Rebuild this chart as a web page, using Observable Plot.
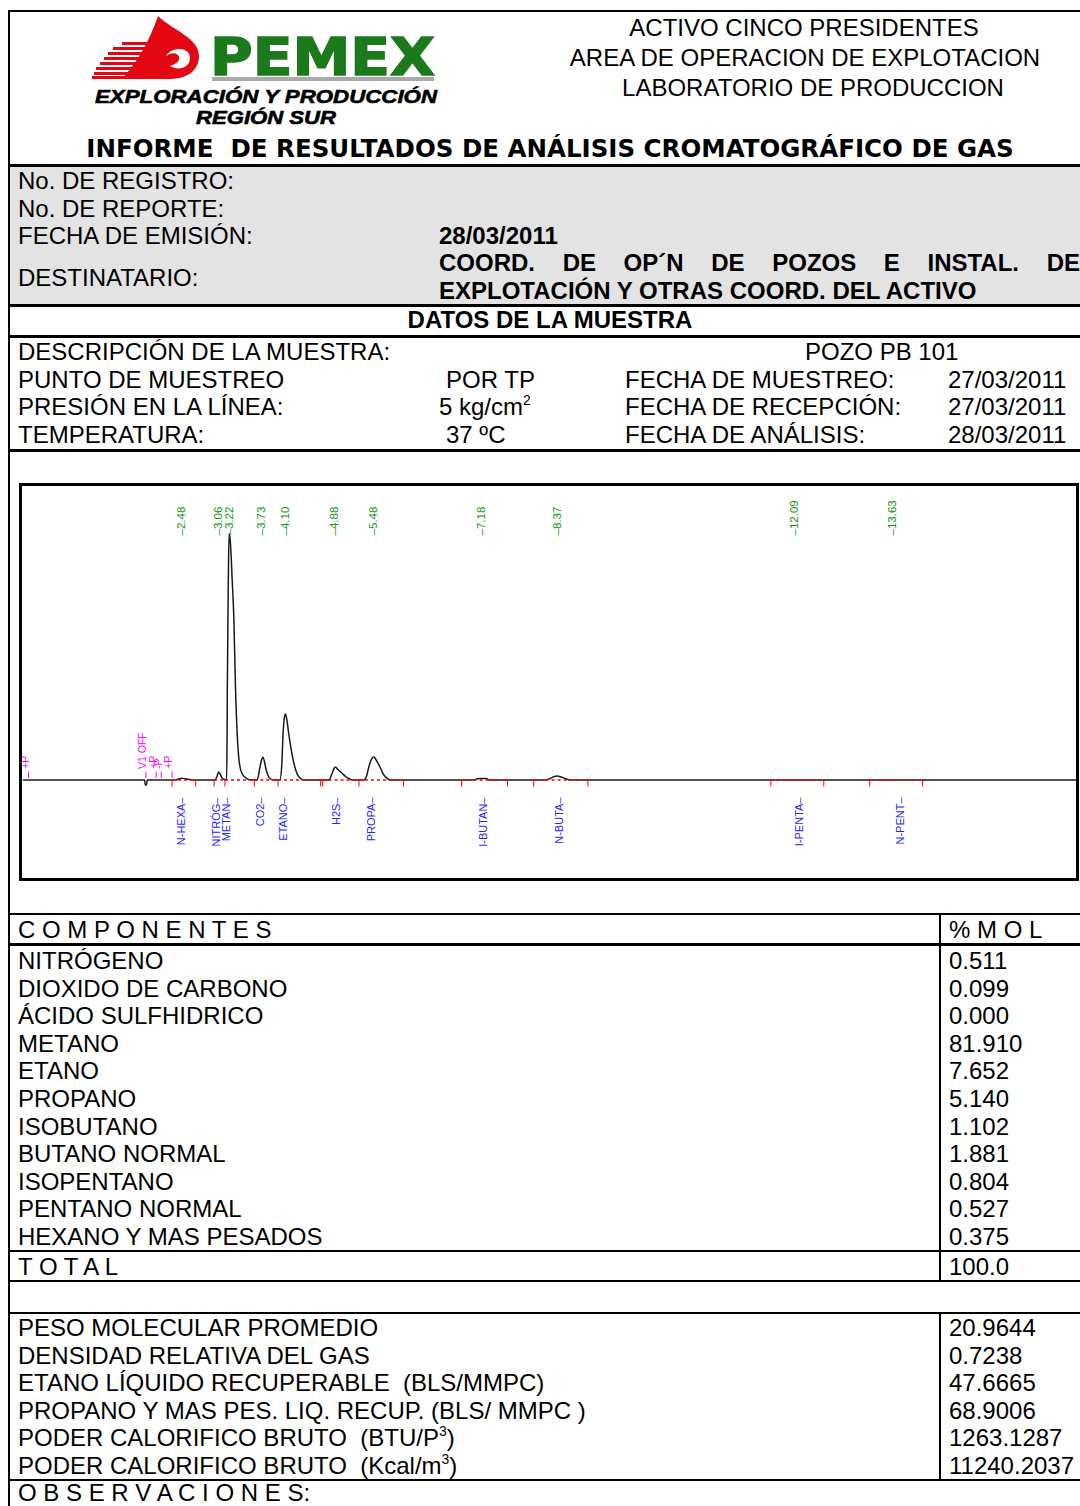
<!DOCTYPE html>
<html><head><meta charset="utf-8">
<script src="https://cdn.jsdelivr.net/npm/d3@7"></script>
<script src="https://cdn.jsdelivr.net/npm/@observablehq/plot@0.6"></script>
<style>
html,body{margin:0;padding:0;background:#fff;}
#page{position:relative;width:1080px;height:1506px;overflow:hidden;font-family:"Liberation Sans",Arial,sans-serif;color:#000;}
.t{position:absolute;font-size:24px;line-height:1;white-space:pre;transform:translateY(-50%);}
.b{font-weight:bold;}
.ln{position:absolute;background:#000;}
sup{font-size:0.58em;line-height:0;vertical-align:0.75em;}
#chartWrap{position:absolute;left:19px;top:483px;width:1060px;height:398px;}
#chartWrap svg{position:absolute;left:0;top:0;}
#chartBorder{position:absolute;left:19px;top:483px;width:1060px;height:398px;border:3px solid #000;box-sizing:border-box;pointer-events:none;}
</style></head><body><div id="page"></div>
<script>
// ---------------- DATA ----------------
const headerLines = ["ACTIVO CINCO PRESIDENTES", "AREA DE OPERACION DE EXPLOTACION", "LABORATORIO DE PRODUCCION"];
const reportTitle = "INFORME  DE RESULTADOS DE ANÁLISIS CROMATOGRÁFICO DE GAS";
const logoWord = "PEMEX";
const logoLines = ["EXPLORACIÓN Y PRODUCCIÓN", "REGIÓN SUR"];
const registryLabels = ["No. DE REGISTRO:", "No. DE REPORTE:", "FECHA DE EMISIÓN:", "DESTINATARIO:"];
const emissionDate = "28/03/2011";
const recipientLines = ["COORD. DE OP´N DE POZOS E INSTAL. DE", "EXPLOTACIÓN Y OTRAS COORD. DEL ACTIVO"];
const sampleSection = "DATOS DE LA MUESTRA";
const sampleLabels = ["DESCRIPCIÓN DE LA MUESTRA:", "PUNTO DE MUESTREO", "PRESIÓN EN LA LÍNEA:", "TEMPERATURA:"];
const sampleValues = ["", "POR TP", "5 kg/cm<sup>2</sup>", "37 ºC"];
const sampleName = "POZO PB 101";
const dateLabels = ["FECHA DE MUESTREO:", "FECHA DE RECEPCIÓN:", "FECHA DE ANÁLISIS:"];
const dateValues = ["27/03/2011", "27/03/2011", "28/03/2011"];

// chromatogram: retention times (min) and detector signal
const peakRetention = [2.48, 3.06, 3.22, 3.73, 4.10, 4.88, 5.48, 7.18, 8.37, 12.09, 13.63];
const peakNames = ["N-HEXA", "NITRÓG", "METAN", "CO2", "ETANO", "H2S", "PROPA", "I-BUTAN", "N-BUTA", "I-PENTA", "N-PENT"];
const peakNameTimes = [2.48, 3.02, 3.19, 3.72, 4.08, 4.90, 5.46, 7.21, 8.41, 12.17, 13.75];
const traceTime = [0, 1.90, 1.91, 1.93, 1.94, 2.38, 2.43, 2.48, 2.54, 2.62, 2.70,
  3.00, 3.03, 3.06, 3.09, 3.12, 3.15, 3.185, 3.192, 3.196, 3.212, 3.224, 3.246, 3.273, 3.298, 3.324, 3.351, 3.387, 3.43, 3.508, 3.56,
  3.665, 3.70, 3.733, 3.753, 3.78, 3.795, 3.826, 3.873, 3.92,
  4.02, 4.05, 4.07, 4.09, 4.108, 4.13, 4.16, 4.21, 4.255, 4.32, 4.40,
  4.79, 4.83, 4.87, 4.893, 4.93, 5.00, 5.05, 5.10, 5.16,
  5.34, 5.38, 5.415, 5.45, 5.494, 5.53, 5.59, 5.64, 5.68, 5.73, 5.78,
  7.06, 7.12, 7.18, 7.26, 7.31,
  8.18, 8.26, 8.32, 8.37, 8.43, 8.50, 8.59, 16.5];
const traceSignal = [0, 0, -5, -5, 0, 0, 1, 1.7, 1.2, 0.3, 0,
  0, 3, 8, 5, 1.5, 0.5, 0.3, 40, 89, 200, 246.5, 236, 199.5, 163, 93, 46, 16, 6, 1.2, 0,
  0, 10, 20, 22.8, 18, 13, 6, 1, 0,
  0, 15, 46, 62, 66, 60, 46, 26, 13, 3, 0,
  0, 5, 11.5, 13, 10.5, 6.5, 3.5, 1.5, 0,
  0, 4, 13, 20, 23, 20, 13, 6, 3, 0.5, 0,
  0, 1.3, 1.6, 1.4, 0,
  0, 1.5, 3.5, 4, 3, 1.2, 0, 0];
const integrationTicks = [2.33, 2.70, 2.99, 3.16, 3.62, 3.99, 4.66, 4.69, 5.26, 5.96, 6.87, 7.59, 8.00, 8.85, 11.72, 12.55, 13.27, 14.10];
const baselineStart = [2.33, 2.99, 3.16, 3.62, 3.99, 4.69, 5.26, 6.87, 8.00, 11.72, 13.27];
const baselineEnd   = [2.70, 3.16, 3.62, 3.99, 4.66, 5.26, 5.96, 7.59, 8.85, 12.55, 14.10];
const eventTimes = [0.08, 1.92, 2.08, 2.16, 2.33];
const eventLabels = ["+P", "V1 OFF", "+P", "-P", "+P"];

const components = ["NITRÓGENO", "DIOXIDO DE CARBONO", "ÁCIDO SULFHIDRICO", "METANO", "ETANO", "PROPANO", "ISOBUTANO", "BUTANO NORMAL", "ISOPENTANO", "PENTANO NORMAL", "HEXANO Y MAS PESADOS"];
const molPercent = [0.511, 0.099, 0.000, 81.910, 7.652, 5.140, 1.102, 1.881, 0.804, 0.527, 0.375];
const totalLabel = "T O T A L";
const totalValue = 100.0;
const propertyLabels = ["PESO MOLECULAR PROMEDIO", "DENSIDAD RELATIVA DEL GAS", "ETANO LÍQUIDO RECUPERABLE  (BLS/MMPC)", "PROPANO Y MAS PES. LIQ. RECUP. (BLS/ MMPC )", "PODER CALORIFICO BRUTO  (BTU/P<sup>3</sup>)", "PODER CALORIFICO BRUTO  (Kcal/m<sup>3</sup>)"];
const propertyValues = [20.9644, 0.7238, 47.6665, 68.9006, 1263.1287, 11240.2037];
const componentsHeader = "C O M P O N E N T E S";
const molHeader = "% M O L";
const observationsLabel = "O B S E R V A C I O N E S:";

// ---------------- LAYOUT ----------------
const page = document.getElementById("page");
function txt(s, x, y, o = {}) {
  const d = document.createElement("div");
  d.className = "t" + (o.bold ? " b" : "");
  d.style.left = x + "px"; d.style.top = y + "px";
  if (o.size) d.style.fontSize = o.size + "px";
  if (o.family) d.style.fontFamily = o.family;
  if (o.center) d.style.transform = "translate(-50%,-50%)";
  if (o.width) { d.style.width = o.width + "px"; d.style.whiteSpace = "normal"; d.style.textAlign = "justify"; d.style.textAlignLast = "justify"; }
  d.innerHTML = s;
  page.appendChild(d);
  return d;
}
function box(x, y, w, h, color) {
  const d = document.createElement("div");
  d.className = "ln";
  d.style.left = x + "px"; d.style.top = y + "px"; d.style.width = w + "px"; d.style.height = h + "px";
  if (color) d.style.background = color;
  page.appendChild(d);
}
function hline(y, w) { box(8, y - w / 2, 1072, w); }
function vline(x, y1, y2, w) { box(x - w / 2, y1, w, y2 - y1); }

// gray registry block
box(10, 166, 1070, 139, "#e3e3e3");

// frame lines
hline(11, 2.5);
vline(9, 10, 1506, 2.5);
hline(165, 3);
hline(305, 3);
hline(336, 3);
hline(450, 3);
hline(914, 2);
hline(944, 3);
hline(1251, 2);
hline(1281, 2);
hline(1313, 2);
hline(1480, 2);
vline(940, 914, 1281, 1.5);
vline(940, 1313, 1480, 1.5);

// logo
const logo = `<svg style="position:absolute;left:0;top:0" width="470" height="135" xmlns="http://www.w3.org/2000/svg">
  <path fill="#e30613" d="M158,16 C172,30 200,38 199,57 C198,72 186,79 168,79 L122,79 C137,62 149,42 158,16 Z"/>
  ${[42, 47, 52, 57, 62, 67, 72, 76].map((y, i) => `<rect x="${[122, 113, 108, 104, 100, 96, 94, 92][i]}" y="${y}" width="${[30, 38, 42, 44, 46, 48, 48, 48][i]}" height="3" fill="#e30613"/>`).join("")}
  <path fill="#fff" d="M166,56 C172,46 190,47 190,58 C190,68 178,71 170,66 C176,64 182,60 178,55 C175,52 170,53 166,56 Z"/>
  <text x="210" y="75" font-family="DejaVu Sans" font-weight="bold" font-size="51" fill="#1c7a1c" stroke="#1c7a1c" stroke-width="1.5" textLength="225" lengthAdjust="spacingAndGlyphs">${logoWord}</text>
  <rect x="212" y="77" width="222" height="4" fill="#a9a9a9"/>
  <text x="95" y="103" font-family="Liberation Sans" font-weight="bold" font-style="italic" font-size="19" stroke="#000" stroke-width="0.6" textLength="342" lengthAdjust="spacingAndGlyphs">${logoLines[0]}</text>
  <text x="196" y="124" font-family="Liberation Sans" font-weight="bold" font-style="italic" font-size="19" stroke="#000" stroke-width="0.6" textLength="140" lengthAdjust="spacingAndGlyphs">${logoLines[1]}</text>
</svg>`;
page.insertAdjacentHTML("beforeend", logo);

// header lines
const headerCenters = [804, 805, 813];
headerLines.forEach((s, i) => txt(s, headerCenters[i], 28 + i * 30, { center: true }));
txt(reportTitle, 550, 149, { center: true, bold: true, size: 24.5, family: "DejaVu Sans" });

// registry block
[181, 209, 236, 278].forEach((y, i) => txt(registryLabels[i], 18, y));
txt(emissionDate, 439, 236, { bold: true });
txt(recipientLines[0], 439, 263, { bold: true, width: 641 });
txt(recipientLines[1], 439, 291, { bold: true });

// sample data
txt(sampleSection, 550, 320, { center: true, bold: true });
const sampleY = [352, 380, 407, 435];
sampleLabels.forEach((s, i) => txt(s, 18, sampleY[i]));
sampleValues.forEach((s, i) => { if (s) txt(s, i === 2 ? 439 : 446, sampleY[i]); });
txt(sampleName, 805, sampleY[0]);
dateLabels.forEach((s, i) => { txt(s, 625, sampleY[i + 1]); txt(dateValues[i], 948, sampleY[i + 1]); });

// components table
txt(componentsHeader, 18, 930);
txt(molHeader, 949, 930);
components.forEach((s, i) => {
  const y = 961 + i * 27.6;
  txt(s, 18, y);
  txt(molPercent[i].toFixed(3), 949, y);
});
txt(totalLabel, 18, 1267);
txt(totalValue.toFixed(1), 949, 1267);
propertyLabels.forEach((s, i) => {
  const y = 1328 + i * 27.6;
  txt(s, 18, y);
  txt(propertyValues[i].toFixed(4), 949, y);
});
txt(observationsLabel, 18, 1493);

// ---------------- CHROMATOGRAM (Observable Plot) ----------------
const trace = traceTime.map((t, i) => ({ t, s: traceSignal[i] }));
const segs = baselineStart.map((a, i) => ({ a, b: baselineEnd[i] }));
const events = eventTimes.map((t, i) => ({ t, label: eventLabels[i] }));
const peaks = peakRetention.map((rt) => ({ rt }));
const names = peakNames.map((name, i) => ({ name, t: peakNameTimes[i] }));

const chart = Plot.plot({
  width: 1060, height: 398, margin: 0,
  style: { fontFamily: "Liberation Sans, Arial, sans-serif", background: "#fff" },
  x: { domain: [0, 16.5], range: [4, 1056.2], axis: null },
  y: { domain: [0, 250], range: [296.5, 46.5], axis: null },
  marks: [
    Plot.line(trace, { x: "t", y: "s", stroke: "#1a1a1a", strokeWidth: 1.5, curve: "monotone-x" }),
    Plot.link(segs, { x1: "a", x2: "b", y1: 0, y2: 0, stroke: "#ff0000", strokeWidth: 1.3, strokeDasharray: "3,3" }),
    Plot.ruleX(integrationTicks, { x: (d) => d, y1: 0, y2: -7, stroke: "#ff0000", strokeWidth: 1 }),
    Plot.ruleX(events, { x: "t", y1: 1.5, y2: 8, stroke: "#ff00ff", strokeWidth: 1 }),
    Plot.text(events, { x: "t", y: 11, text: "label", rotate: -90, textAnchor: "start", fill: "#ff00ff", fontSize: 10.5, dx: -3 }),
    Plot.text(peaks, { x: "rt", y: 244.5, text: (d) => "–" + d.rt.toFixed(2), rotate: -90, textAnchor: "start", fill: "#129412", fontSize: 11.5 }),
    Plot.text(names, { x: "t", y: -17.5, text: (d) => d.name + "–", rotate: -90, textAnchor: "end", fill: "#2323ff", fontSize: 11 })
  ]
});
const wrap = document.createElement("div");
wrap.id = "chartWrap";
wrap.appendChild(chart);
page.appendChild(wrap);
const border = document.createElement("div");
border.id = "chartBorder";
page.appendChild(border);
</script>
</body></html>
